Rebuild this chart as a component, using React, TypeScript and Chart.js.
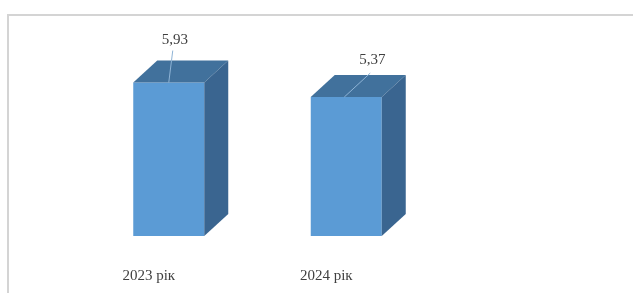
import React, { useEffect, useRef } from "react";
import { Chart, registerables } from "chart.js";

Chart.register(...registerables);

const categories = ["2023 рік", "2024 рік"];
const values = [5.93, 5.37];
const valueLabels = ["5,93", "5,37"];

const FRONT = "#5b9bd5";
const TOP = "#41719c";
const SIDE = "#3a6590";
const DX = 24;
const DY = 22;

const threeD = {
  id: "threeD",
  beforeDraw(chart: any) {
    const ctx = chart.ctx;
    ctx.save();
    ctx.fillStyle = "#ffffff";
    ctx.fillRect(0, 0, chart.width, chart.height);
    ctx.strokeStyle = "#d4d4d4";
    ctx.lineWidth = 2;
    ctx.beginPath();
    ctx.moveTo(8, chart.height);
    ctx.lineTo(8, 15);
    ctx.lineTo(chart.width, 15);
    ctx.stroke();
    ctx.restore();
  },
  afterDatasetsDraw(chart: any) {
    const ctx = chart.ctx;
    const meta = chart.getDatasetMeta(0);
    ctx.save();
    meta.data.forEach((bar: any, i: number) => {
      const p = bar.getProps(["x", "y", "base", "width"], true);
      const l = p.x - p.width / 2;
      const r = p.x + p.width / 2;
      const t = p.y;
      const b = p.base;
      // top face
      ctx.fillStyle = TOP;
      ctx.beginPath();
      ctx.moveTo(l, t);
      ctx.lineTo(l + DX, t - DY);
      ctx.lineTo(r + DX, t - DY);
      ctx.lineTo(r, t);
      ctx.closePath();
      ctx.fill();
      // side face
      ctx.fillStyle = SIDE;
      ctx.beginPath();
      ctx.moveTo(r, t);
      ctx.lineTo(r + DX, t - DY);
      ctx.lineTo(r + DX, b - DY);
      ctx.lineTo(r, b);
      ctx.closePath();
      ctx.fill();
      // leader line and value label
      const lx = p.x + 4 + i * 20;
      const ly = t - 42 + i * 5;
      ctx.strokeStyle = "#8fb4d6";
      ctx.lineWidth = 1;
      ctx.beginPath();
      ctx.moveTo(p.x + (i === 0 ? 0 : -2), t);
      ctx.lineTo(lx, t - 32 + i * 8);
      ctx.stroke();
      ctx.fillStyle = "#404040";
      ctx.font = "15px 'Liberation Serif', serif";
      ctx.textAlign = "center";
      ctx.textBaseline = "middle";
      ctx.fillText(valueLabels[i], lx + 2, ly);
      // category label
      ctx.fillStyle = "#404040";
      ctx.textAlign = "center";
      ctx.fillText(categories[i], p.x - 20, 276);
    });
    ctx.restore();
  },
};

export default function App() {
  const ref = useRef<HTMLCanvasElement>(null);
  useEffect(() => {
    if (!ref.current) return;
    const chart = new Chart(ref.current, {
      type: "bar",
      data: {
        labels: categories,
        datasets: [
          {
            data: values,
            backgroundColor: FRONT,
            borderWidth: 0,
            barPercentage: 0.4,
            categoryPercentage: 1,
          },
        ],
      },
      options: {
        animation: false,
        responsive: false,
        maintainAspectRatio: false,
        layout: { padding: { left: 80, right: 198, top: 29, bottom: 57 } },
        plugins: { legend: { display: false }, tooltip: { enabled: false } },
        scales: {
          x: { display: false },
          y: { display: false, min: 0, max: 8 },
        },
      },
      plugins: [threeD],
    });
    return () => chart.destroy();
  }, []);
  return (
    <div style={{ position: "fixed", left: 0, top: 0, width: 633, height: 293 }}>
      <canvas ref={ref} width={633} height={293} style={{ width: 633, height: 293 }} />
    </div>
  );
}
